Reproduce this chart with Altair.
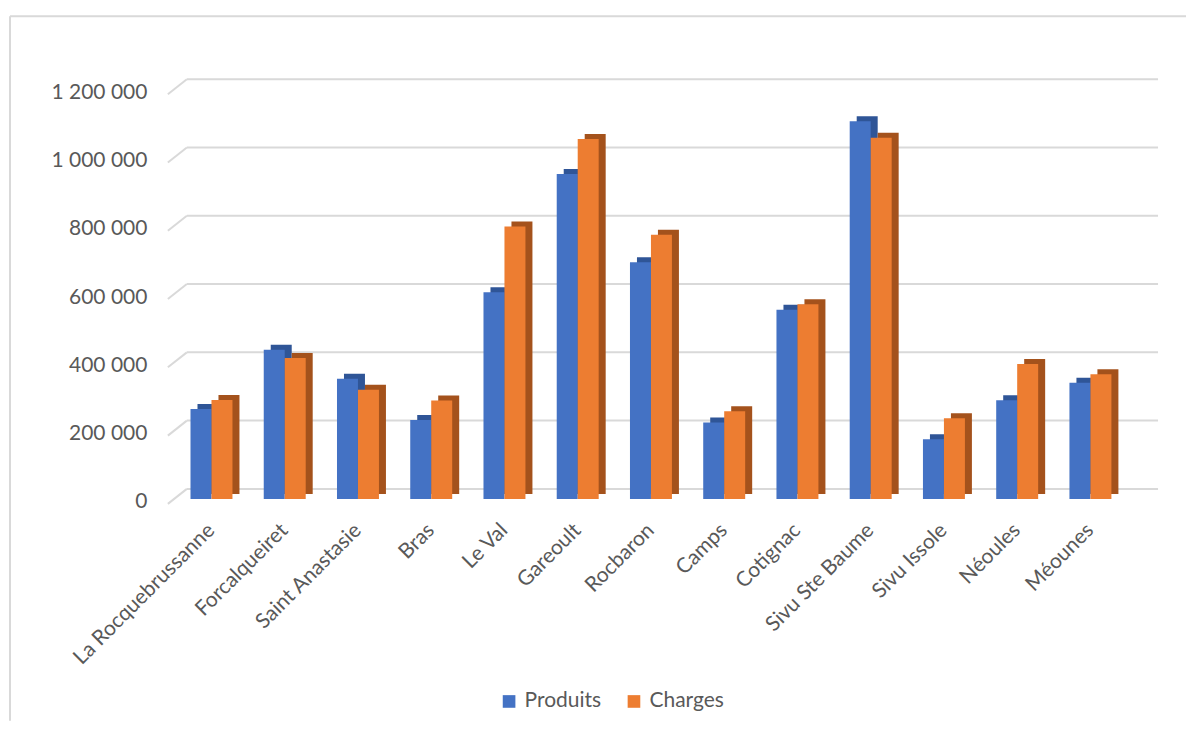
import altair as alt
import pandas as pd

communes = ["La Rocquebrussanne", "Forcalqueiret", "Saint Anastasie", "Bras", "Le Val",
            "Gareoult", "Rocbaron", "Camps", "Cotignac", "Sivu Ste Baume",
            "Sivu Issole", "Néoules", "Méounes"]
produits = [263000, 437000, 352000, 231000, 605000, 952000, 693000, 224000, 554000, 1106000, 175000, 289000, 340000]
charges = [290000, 413000, 320000, 288000, 798000, 1054000, 774000, 257000, 570000, 1058000, 236000, 395000, 365000]
series = ["Produits", "Charges"]
colors = ["#4472C4", "#ED7D31"]
shade = ["#2F5597", "#A4521C"]
y_ticks = [0, 200000, 400000, 600000, 800000, 1000000, 1200000]

rows = []
for c, p, ch in zip(communes, produits, charges):
    rows.append({"commune": c, "serie": "Produits", "valeur": p})
    rows.append({"commune": c, "serie": "Charges", "valeur": ch})
df = pd.DataFrame(rows)
grid_df = pd.DataFrame({"valeur": y_ticks})

FONT = "Lato"
GRAY = "#595959"
GRID = "#D9D9D9"
W, H = 984, 410
BARW = 21

yscale = alt.Scale(domain=[0, 1200000], nice=False)

xenc = alt.X("commune:N", sort=communes,
             scale=alt.Scale(range=[0, 953], paddingInner=0, paddingOuter=0),
             axis=alt.Axis(title=None, labelAngle=-45, labelAlign="right", labelBaseline="middle",
                           labelFont=FONT, labelFontSize=21, labelColor=GRAY, labelPadding=28,
                           labelLimit=0, ticks=False, domain=False, grid=False, labelOverlap=False))
yenc = alt.Y("valeur:Q", scale=yscale,
             axis=alt.Axis(title=None, values=y_ticks, labelFont=FONT, labelFontSize=21,
                           labelColor=GRAY, labelPadding=28, labelOffset=3, ticks=False,
                           domain=False, grid=False,
                           labelExpr="replace(format(datum.value, ','), regexp(',', 'g'), ' ')"))

color = alt.Color("serie:N", scale=alt.Scale(domain=series, range=colors),
                  legend=alt.Legend(title=None, orient="none", direction="horizontal",
                                    legendX=324, legendY=602, symbolType="square",
                                    symbolSize=160, symbolStrokeWidth=0, labelFont=FONT,
                                    labelFontSize=21, labelColor=GRAY, labelOffset=5,
                                    columnPadding=22, padding=0))

grid_chart = alt.Chart(grid_df)
grid_h = grid_chart.mark_rule(color=GRID, strokeWidth=2, yOffset=-10).encode(
    y=yenc, x=alt.value(12), x2=alt.value(984))
grid_d = grid_chart.mark_rule(color=GRID, strokeWidth=2, yOffset=5, y2Offset=-10).encode(
    y=yenc, y2="valeur:Q", x=alt.value(-7), x2=alt.value(12))

base = alt.Chart(df)
layers = [grid_h, grid_d]
offs = [-BARW / 2, BARW / 2]
for i, s in enumerate(series):
    sub = base.transform_filter(alt.datum.serie == s)
    layers.append(sub.mark_bar(width=BARW, xOffset=offs[i] + 7, yOffset=-5, color=shade[i])
                  .encode(x=xenc, y=yenc))
    layers.append(sub.mark_bar(width=BARW, xOffset=offs[i]).encode(x=xenc, y=yenc, color=color))

one = alt.Chart(pd.DataFrame({"a": [0]}))
border_left = one.mark_rule(color=GRID, strokeWidth=2).encode(
    x=alt.value(-165), y=alt.value(-73), y2=alt.value(632))
border_top = one.mark_rule(color=GRID, strokeWidth=2).encode(
    x=alt.value(-165), x2=alt.value(1012), y=alt.value(-73))

chart = alt.layer(*layers, border_left, border_top).properties(
    width=W, height=H,
    padding={"left": 1, "top": 7, "right": 0, "bottom": 0},
).configure(background="white").configure_view(strokeWidth=0)

chart.save("out.html", embed_options={"renderer": "svg", "actions": False})
